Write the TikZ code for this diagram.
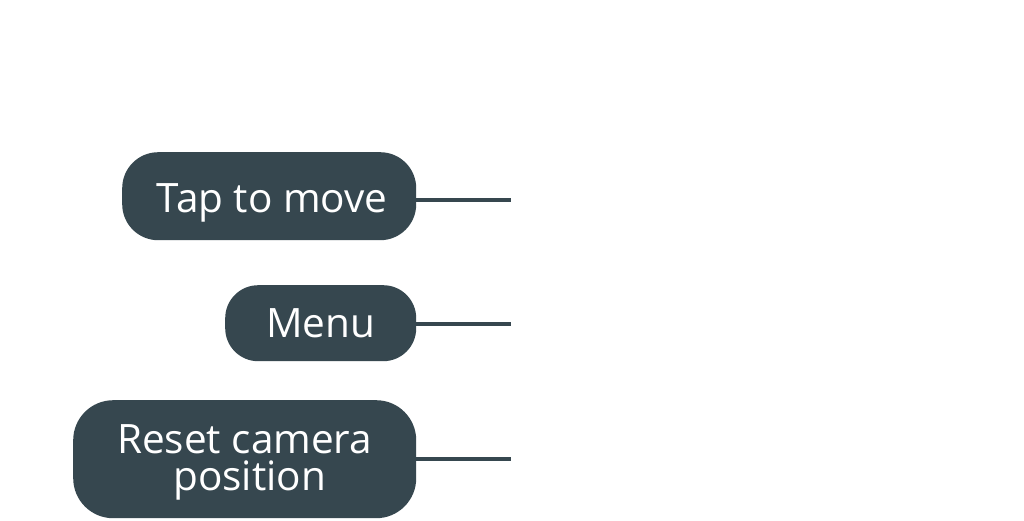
\documentclass[tikz,border=0pt]{standalone}
\usepackage{fontspec}
\setmainfont{Open Sans}
\definecolor{boxc}{HTML}{36474F}
\begin{document}
\begin{tikzpicture}[x=1pt,y=-1pt,
  topic/.style={fill=boxc,text=white,inner sep=0pt,anchor=north west,align=center,text depth=4pt,font=\fontsize{40.5}{37}\selectfont},
  link/.style={draw=boxc,line width=3.5pt}]
\useasboundingbox[fill=white] (0,0) rectangle (1024,520);
\node[topic,minimum width=294pt,minimum height=88pt,rounded corners=36pt,text height=36pt] (tap) at (122,152) {\hspace*{6pt}Tap to move};
\node[topic,minimum width=191pt,minimum height=76pt,rounded corners=33pt,text height=32pt] (menu) at (225,285) {Menu};
\node[topic,minimum width=343pt,minimum height=118pt,rounded corners=40pt,text height=66pt] (reset) at (73,400) {Reset camera\\\hspace*{10pt}position};
\coordinate (e1) at (511,200);
\coordinate (e2) at (511,324);
\coordinate (e3) at (511,459);
\draw[link] (tap.east |- e1) -- (e1);
\draw[link] (menu.east |- e2) -- (e2);
\draw[link] (reset.east |- e3) -- (e3);
\end{tikzpicture}
\end{document}
